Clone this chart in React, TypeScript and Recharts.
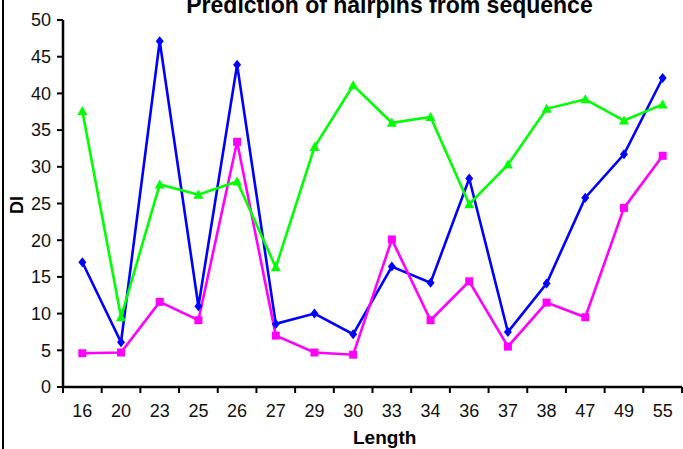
import React from 'react';
import { LineChart, Line, XAxis, YAxis } from 'recharts';

const lengths = ['16', '20', '23', '25', '26', '27', '29', '30', '33', '34', '36', '37', '38', '47', '49', '55'];
const blueValues = [17, 6.1, 47.1, 11, 43.9, 8.6, 10, 7.2, 16.4, 14.2, 28.4, 7.5, 14.1, 25.8, 31.7, 42.1];
const pinkValues = [4.6, 4.7, 11.6, 9.1, 33.4, 7, 4.7, 4.4, 20.1, 9.1, 14.4, 5.5, 11.5, 9.5, 24.4, 31.5];
const greenValues = [37.6, 9.5, 27.6, 26.2, 28, 16.3, 32.7, 41.1, 36, 36.8, 24.9, 30.3, 37.9, 39.2, 36.3, 38.5];
const yTicks = [0, 5, 10, 15, 20, 25, 30, 35, 40, 45, 50];

const data = lengths.map((l, i) => ({
  length: l,
  blue: blueValues[i],
  pink: pinkValues[i],
  green: greenValues[i],
}));

const FONT = '"Liberation Sans", Arial, sans-serif';
const PLOT_W = 619;
const STEP = PLOT_W / lengths.length;

const XTick = (props: any) => {
  const { x, y, payload, index } = props;
  const bx = x - STEP / 2;
  return (
    <g>
      <line x1={bx} x2={bx} y1={y} y2={y + 6} stroke="#000" strokeWidth={2} />
      {index === lengths.length - 1 && (
        <line x1={x + STEP / 2} x2={x + STEP / 2} y1={y} y2={y + 6} stroke="#000" strokeWidth={2} />
      )}
      <text x={x} y={y + 30} textAnchor="middle" fontSize={18} fill="#111" fontFamily={FONT}>
        {payload.value}
      </text>
    </g>
  );
};

const Diamond = (props: any) => {
  const { cx, cy, index } = props;
  if (cx == null || cy == null) return <g key={index} />;
  return (
    <polygon
      key={index}
      points={`${cx},${cy - 5} ${cx + 4},${cy} ${cx},${cy + 5} ${cx - 4},${cy}`}
      fill="#0000FF"
    />
  );
};

const Square = (props: any) => {
  const { cx, cy, index } = props;
  if (cx == null || cy == null) return <g key={index} />;
  return <rect key={index} x={cx - 4} y={cy - 4} width={8} height={8} fill="#FF00FF" />;
};

const Triangle = (props: any) => {
  const { cx, cy, index } = props;
  if (cx == null || cy == null) return <g key={index} />;
  return (
    <polygon
      key={index}
      points={`${cx},${cy - 5} ${cx + 5},${cy + 4} ${cx - 5},${cy + 4}`}
      fill="#00FF00"
    />
  );
};

export default function App() {
  return (
    <div style={{ position: 'absolute', left: 0, top: 0, width: 683, height: 449, background: '#fff', overflow: 'hidden' }}>
      <div style={{ position: 'absolute', left: 2, top: 0, width: 2, height: 449, background: '#000' }} />
      <LineChart
        width={683}
        height={449}
        data={data}
        margin={{ top: 20, right: 1, left: 0, bottom: 0 }}
      >
        <XAxis
          dataKey="length"
          height={62}
          interval={0}
          padding={{ left: STEP / 2, right: STEP / 2 }}
          tickLine={false}
          tickSize={0}
          tickMargin={0}
          axisLine={{ stroke: '#000', strokeWidth: 2.5 }}
          tick={<XTick />}
        />
        <YAxis
          width={63}
          domain={[0, 50]}
          ticks={yTicks}
          interval={0}
          tickSize={6}
          tickMargin={6}
          axisLine={{ stroke: '#000', strokeWidth: 2.5 }}
          tickLine={{ stroke: '#000', strokeWidth: 2 }}
          tick={{ fontSize: 18, fill: '#111', fontFamily: FONT }}
        />
        <Line dataKey="blue" type="linear" stroke="#0000FF" strokeWidth={2.6} dot={<Diamond />} activeDot={false} isAnimationActive={false} />
        <Line dataKey="pink" type="linear" stroke="#FF00FF" strokeWidth={2.6} dot={<Square />} activeDot={false} isAnimationActive={false} />
        <Line dataKey="green" type="linear" stroke="#00FF00" strokeWidth={2.6} dot={<Triangle />} activeDot={false} isAnimationActive={false} />
      </LineChart>
      <div
        style={{
          position: 'absolute', left: 0, width: 683, top: -8, textAlign: 'center', paddingLeft: 96,
          boxSizing: 'border-box', fontFamily: FONT, fontWeight: 'bold', fontSize: 23, lineHeight: '26px', color: '#000',
          whiteSpace: 'nowrap',
        }}
      >
        Prediction of hairpins from sequence
      </div>
      <div
        style={{
          position: 'absolute', left: 353, top: 427, fontFamily: FONT, fontWeight: 'bold', fontSize: 19,
          lineHeight: '22px', color: '#000', whiteSpace: 'nowrap',
        }}
      >
        Length
      </div>
      <div
        style={{
          position: 'absolute', left: 17, top: 205, fontFamily: FONT, fontWeight: 'bold', fontSize: 18,
          lineHeight: '18px', color: '#000', whiteSpace: 'nowrap', transform: 'translate(-50%, -50%) rotate(-90deg)',
        }}
      >
        DI
      </div>
    </div>
  );
}
